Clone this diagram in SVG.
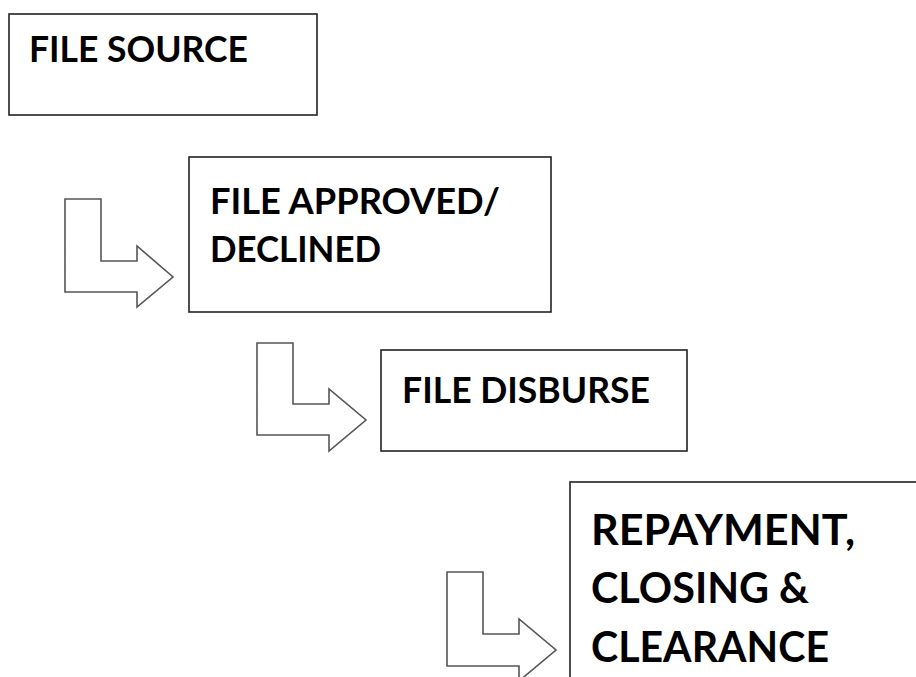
<svg xmlns="http://www.w3.org/2000/svg" width="916" height="677" viewBox="0 0 916 677">
<style>
.box{fill:#fff;stroke:#222;stroke-width:1.6}
.arr{fill:#fff;stroke:#555;stroke-width:1.6;stroke-linejoin:miter}
.t{font-family:Lato,"Open Sans","Liberation Sans",sans-serif;font-weight:700;fill:#000}
.s{font-size:37px}
.l{font-size:42px}
</style>
<rect width="916" height="677" fill="#fff"/>
<g id="connectors">
<path class="arr" d="M65,199 H101 V261 H137 V246 L173,277 L137,307 V292 H65 Z"/>
<path class="arr" d="M257,343 H293 V404 H329 V389 L366,420 L329,451 V435 H257 Z"/>
<path class="arr" d="M447,572 H483 V634 H519 V619 L556,650 L519,681 V666 H447 Z"/>
</g>
<g id="file-source">
<rect class="box" x="9" y="14" width="308" height="101"/>
<text class="t s" x="29" y="62" textLength="219" lengthAdjust="spacingAndGlyphs">FILE SOURCE</text>
</g>
<g id="file-approved">
<rect class="box" x="189" y="157" width="362" height="155"/>
<text class="t s" x="210" y="214" textLength="290" lengthAdjust="spacingAndGlyphs">FILE APPROVED/</text>
<text class="t s" x="210" y="262" textLength="171" lengthAdjust="spacingAndGlyphs">DECLINED</text>
</g>
<g id="file-disburse">
<rect class="box" x="381" y="350" width="306" height="101"/>
<text class="t s" x="402" y="403" textLength="248" lengthAdjust="spacingAndGlyphs">FILE DISBURSE</text>
</g>
<g id="repayment">
<rect class="box" x="570" y="482" width="360" height="220"/>
<text class="t l" x="591" y="545" textLength="264" lengthAdjust="spacingAndGlyphs">REPAYMENT,</text>
<text class="t l" x="591" y="603" textLength="218" lengthAdjust="spacingAndGlyphs">CLOSING &amp;</text>
<text class="t l" x="591" y="662" textLength="238" lengthAdjust="spacingAndGlyphs">CLEARANCE</text>
</g>
</svg>
